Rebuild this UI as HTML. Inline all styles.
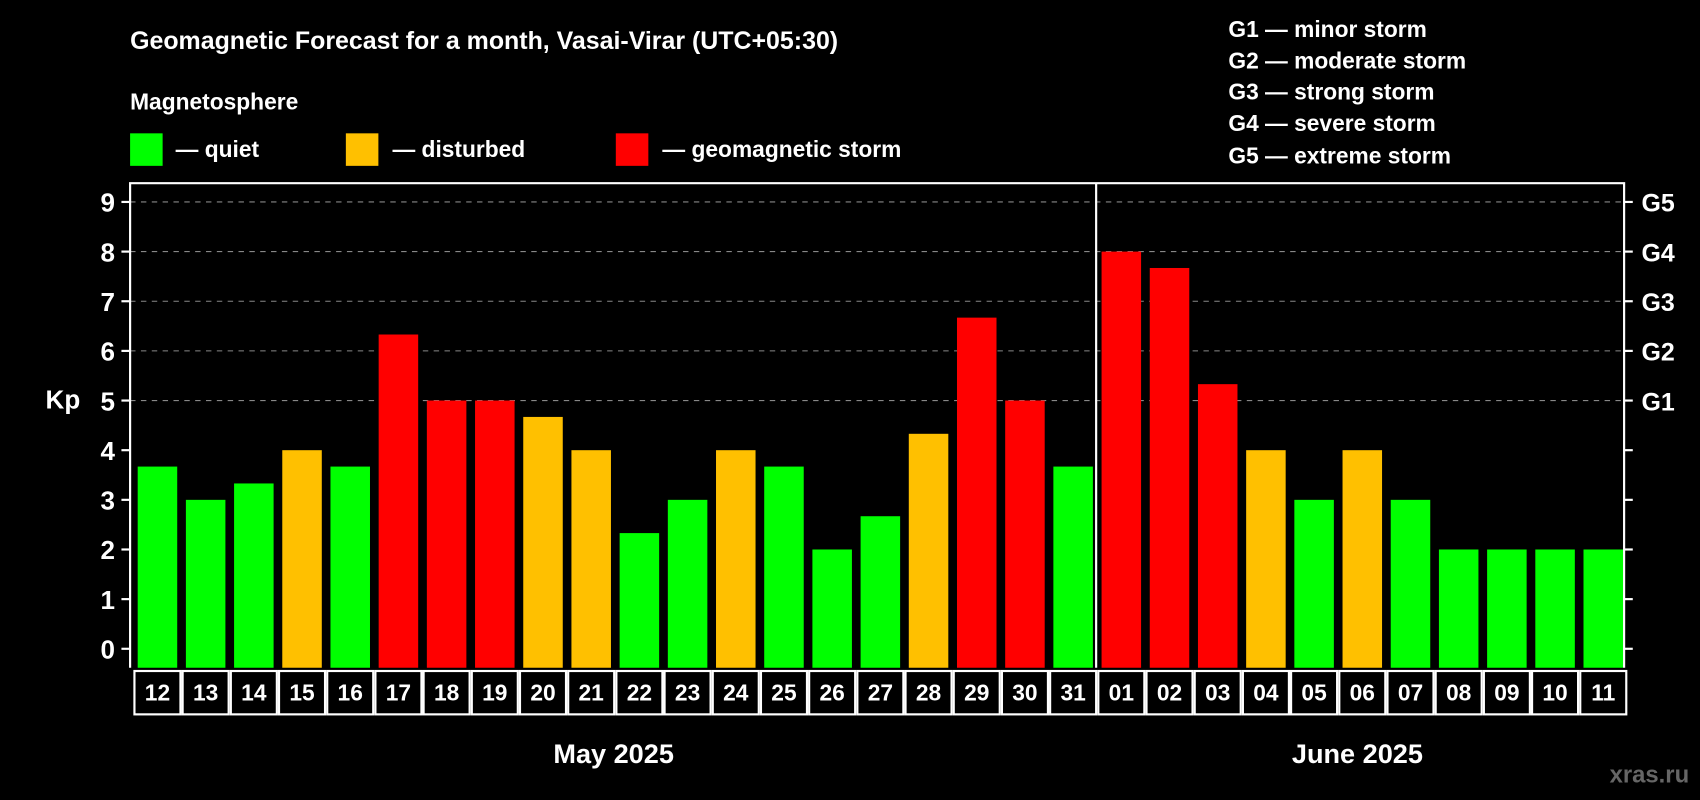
<!DOCTYPE html>
<html><head><meta charset="utf-8"><style>
html,body{margin:0;padding:0;background:#000;}
svg{display:block;font-family:"Liberation Sans",Arial,sans-serif;font-weight:bold;}
</style></head><body>
<svg id="chart" width="1700" height="800" viewBox="0 0 1568 738" preserveAspectRatio="none" xmlns="http://www.w3.org/2000/svg">
<rect width="1568" height="738" fill="#000"/>
<text x="120" y="45" fill="#fff" font-size="23">Geomagnetic Forecast for a month, Vasai-Virar (UTC+05:30)</text>
<text x="120" y="101" fill="#fff" font-size="21">Magnetosphere</text>
<rect x="120" y="123" width="30" height="30" fill="#00ff00"/>
<text x="162" y="145" fill="#fff" font-size="21">— quiet</text>
<rect x="319" y="123" width="30" height="30" fill="#ffc000"/>
<text x="362" y="145" fill="#fff" font-size="21">— disturbed</text>
<rect x="568" y="123" width="30" height="30" fill="#ff0000"/>
<text x="611" y="145" fill="#fff" font-size="21">— geomagnetic storm</text>
<g fill="#fff" font-size="21">
<text x="1133" y="34">G1 — minor storm</text>
<text x="1133" y="63">G2 — moderate storm</text>
<text x="1133" y="92">G3 — strong storm</text>
<text x="1133" y="121">G4 — severe storm</text>
<text x="1133" y="151">G5 — extreme storm</text>
</g>
<text x="58" y="377" fill="#fff" font-size="24" text-anchor="middle">Kp</text>
<g id="grid"></g><g id="bars"></g><g id="axes"></g>
<text x="566" y="704" fill="#fff" font-size="25" text-anchor="middle">May 2025</text>
<text x="1252" y="704" fill="#fff" font-size="25" text-anchor="middle">June 2025</text>
<text x="1558" y="722" fill="#666" font-size="22" text-anchor="end">xras.ru</text>
</svg>
<script>
const days = ["12","13","14","15","16","17","18","19","20","21","22","23","24","25","26","27","28","29","30","31","01","02","03","04","05","06","07","08","09","10","11"];
const kpValues = [3.67,3,3.33,4,3.67,6.33,5,5,4.67,4,2.33,3,4,3.67,2,2.67,4.33,6.67,5,3.67,8,7.67,5.33,4,3,4,3,2,2,2,2];
const yTicks = [0,1,2,3,4,5,6,7,8,9];
const gLabels = ["","","","","","G1","G2","G3","G4","G5"];
const NS="http://www.w3.org/2000/svg";
const L=120,R=1498,T=169,B=616,RowB=660;
const y0=598.5,unit=45.8;
const yScale=v=>y0-v*unit;
const cw=(R-L)/days.length;
const xScale=i=>L+i*cw;
function mk(tag,attrs,parent){const e=document.createElementNS(NS,tag);for(const k in attrs)e.setAttribute(k,attrs[k]);parent.appendChild(e);return e;}
const grid=document.getElementById('grid'),bars=document.getElementById('bars'),axes=document.getElementById('axes');
yTicks.forEach((t,i)=>{
  const y=yScale(t);
  if(t>=5){const g=mk('line',{x1:L,x2:R,y1:y,y2:y,stroke:'#888','stroke-width':1,'stroke-dasharray':'5,5'},grid);
  
  }
  mk('line',{x1:L-8,x2:L,y1:y,y2:y,stroke:'#fff','stroke-width':2},axes);
  mk('line',{x1:R,x2:R+8,y1:y,y2:y,stroke:'#fff','stroke-width':2},axes);
  const tl=mk('text',{x:L-14,y:y+9,fill:'#fff','font-size':24,'text-anchor':'end'},axes);
  tl.textContent=t;
  
  
  if(gLabels[i]){const gl=mk('text',{x:R+16,y:y+9,fill:'#fff','font-size':23},axes);gl.textContent=gLabels[i];
  
  }
});
kpValues.forEach((v,i)=>{
  const col=v<4?'#00ff00':(v<5?'#ffc000':'#ff0000');
  const yt=yScale(v);
  const b=mk('rect',{x:xScale(i)+7,y:yt,width:cw-8,height:B-yt,fill:col},bars);
  
  
  const c=mk('rect',{x:xScale(i)+4,y:B+3,width:cw-2,height:RowB-B-4,fill:'none',stroke:'#fff','stroke-width':2},axes);
  const dl=mk('text',{x:xScale(i)+cw/2+3,y:B+30,fill:'#fff','font-size':21,'text-anchor':'middle'},axes);
  dl.textContent=days[i];
  
  
});
mk('polyline',{points:`${L},${B} ${L},${T} ${R},${T} ${R},${B}`,fill:'none',stroke:'#fff','stroke-width':2},axes);
const sep=xScale(days.indexOf("01"))+2;
mk('line',{x1:sep,x2:sep,y1:T,y2:B,stroke:'#fff','stroke-width':2},axes);
</script>
</body></html>
